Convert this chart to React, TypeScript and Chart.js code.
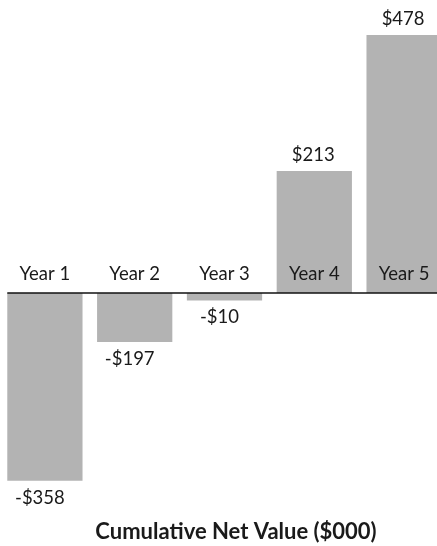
import React, { useEffect, useRef } from "react";
import { Chart, registerables } from "chart.js";

Chart.register(...registerables);

// Categories
const categories: string[] = ["Year 1", "Year 2", "Year 3", "Year 4", "Year 5"];
// Bar lengths as drawn in the picture ($000)
const barValues: number[] = [-348, -91, -14, 226, 478];
// Value labels as printed in the picture ($000)
const labelValues: number[] = [-358, -197, -10, 213, 478];
const chartTitle = "Cumulative Net Value ($000)";

const BAR_COLOR = "#b3b3b3";
const TEXT_COLOR = "#1a1a1a";
const FONT = "Lato, 'Open Sans', sans-serif";

function fmt(v: number): string {
  return (v < 0 ? "-$" : "$") + Math.abs(v);
}

const labelPlugin = {
  id: "customLabels",
  afterDatasetsDraw(chart: any) {
    const { ctx, scales } = chart;
    const x = scales.x;
    const y = scales.y;
    const zeroY = y.getPixelForValue(0);
    const meta = chart.getDatasetMeta(0);
    ctx.save();
    // baseline
    const firstBar = meta.data[0];
    const left = firstBar.x - firstBar.width / 2;
    ctx.strokeStyle = "#111";
    ctx.lineWidth = 1.6;
    ctx.beginPath();
    ctx.moveTo(left, zeroY);
    ctx.lineTo(chart.width, zeroY);
    ctx.stroke();

    ctx.fillStyle = TEXT_COLOR;
    ctx.textAlign = "center";
    ctx.textBaseline = "middle";
    ctx.font = `18.5px ${FONT}`;
    categories.forEach((c, i) => {
      const cx = x.getPixelForValue(i);
      ctx.fillText(c, cx, zeroY - 19);
    });
    meta.data.forEach((bar: any, i: number) => {
      const v = barValues[i];
      const yy = y.getPixelForValue(v);
      const ty = v >= 0 ? yy - 16 : yy + 17;
      const tx = v >= 0 ? bar.x - 1 : bar.x - 5;
      ctx.fillText(fmt(labelValues[i]), tx, ty);
    });
    ctx.font = `bold 22px ${FONT}`;
    ctx.fillText(chartTitle, 236, 532);
    ctx.restore();
  },
};

export default function App() {
  const ref = useRef<HTMLCanvasElement>(null);
  useEffect(() => {
    if (!ref.current) return;
    const chart = new Chart(ref.current, {
      type: "bar",
      data: {
        labels: categories,
        datasets: [
          {
            data: barValues,
            backgroundColor: BAR_COLOR,
            borderWidth: 0,
            barPercentage: 0.838,
            categoryPercentage: 1,
          },
        ],
      },
      options: {
        animation: false,
        responsive: false,
        maintainAspectRatio: false,
        layout: { padding: 0 },
        plugins: {
          legend: { display: false },
          tooltip: { enabled: false },
          title: { display: false },
        },
        scales: {
          x: { display: false },
          y: { display: false, min: -469, max: 543 },
        },
      },
      plugins: [labelPlugin],
    });
    return () => chart.destroy();
  }, []);
  return (
    <div
      style={{
        position: "fixed",
        left: 0,
        top: 0,
        width: 437,
        height: 546,
        overflow: "hidden",
        background: "#fff",
      }}
    >
      <canvas ref={ref} width={449} height={546} style={{ display: "block", width: 449, height: 546 }} />
    </div>
  );
}
